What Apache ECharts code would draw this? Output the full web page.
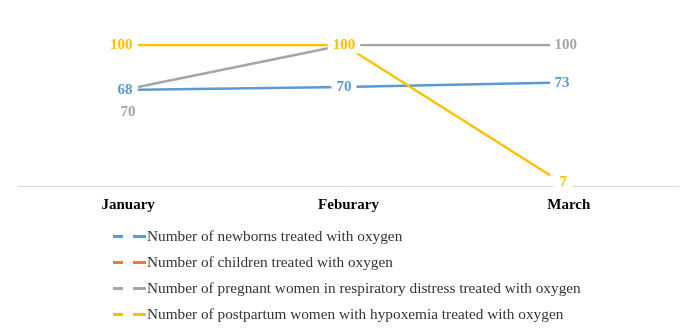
<!DOCTYPE html>
<html>
<head>
<meta charset="utf-8">
<script src="https://cdn.jsdelivr.net/npm/echarts@6/dist/echarts.min.js"></script>
<style>
html, body { margin: 0; padding: 0; background: #fff; }
#chart { width: 689px; height: 333px; }
</style>
</head>
<body>
<div id="chart"></div>
<script>
var months = ['January', 'Feburary', 'March'];
var names = [
    'Number of newborns treated with oxygen',
    'Number of children treated with oxygen',
    'Number of pregnant women in respiratory distress treated with oxygen',
    'Number of postpartum women with hypoxemia treated with oxygen'
];
var newborns = [68, 70, 73];
var children = [null, null, null];
var pregnant = [70, 100, 100];
var postpartum = [100, 100, 7];

var colors = ['#5B9BD5', '#ED7D31', '#A5A5A5', '#FFC000'];
var serif = 'Liberation Serif';

// label placement per point (Excel style)
var labelPos = [
    [{position: 'left'}, {position: 'inside', backgroundColor: '#fff', padding: [1, 5]}, {position: 'right', distance: 4}],
    [null, null, null],
    [{position: 'bottom', distance: 17, offset: [-10, 0]}, {show: false}, {position: 'right', distance: 4}],
    [{position: 'left'}, {position: 'inside', backgroundColor: '#fff', padding: [1, 5]}, {position: 'right', distance: 3, offset: [0, 7], backgroundColor: '#fff', padding: [1, 6]}]
];

function makeSeries(idx, values) {
    return {
        name: names[idx],
        type: 'line',
        xAxisIndex: 1,
        yAxisIndex: 1,
        symbol: 'circle',
        symbolSize: 1,
        color: colors[idx],
        lineStyle: {width: 2.5, color: colors[idx]},
        label: {
            show: true,
            color: colors[idx],
            fontFamily: serif,
            fontWeight: 'bold',
            fontSize: 15
        },
        z: idx + 2,
        data: values.map(function (v, i) {
            var item = {value: v};
            if (labelPos[idx][i]) item.label = labelPos[idx][i];
            return item;
        })
    };
}

var chart = echarts.init(document.getElementById('chart'));
chart.setOption({
    animation: false,
    grid: [
        {left: 18, right: 10, top: 45, height: 141},
        {left: 35, width: 618, top: 45, height: 140}
    ],
    legend: {
        orient: 'vertical',
        left: 108,
        top: 224,
        itemGap: 11,
        itemWidth: 33,
        itemHeight: 3,
        icon: 'path://M0,0h10v3H0z M20,0h13v3H20z',
        textStyle: {fontFamily: serif, fontSize: 15.3, color: '#333', padding: [0, 0, 0, -4]},
        data: names
    },
    xAxis: [{
        type: 'category',
        gridIndex: 0,
        data: months,
        axisLine: {lineStyle: {color: '#D9D9D9', width: 1}},
        axisTick: {show: false},
        axisLabel: {margin: 12, color: '#000', fontFamily: serif, fontWeight: 'bold', fontSize: 15}
    }, {
        type: 'category',
        gridIndex: 1,
        data: months,
        show: false
    }],
    yAxis: [{
        type: 'value',
        gridIndex: 0,
        show: false
    }, {
        type: 'value',
        gridIndex: 1,
        min: 0,
        max: 100,
        show: false
    }],
    series: [
        makeSeries(0, newborns),
        makeSeries(1, children),
        makeSeries(2, pregnant),
        makeSeries(3, postpartum)
    ]
});
</script>
</body>
</html>
